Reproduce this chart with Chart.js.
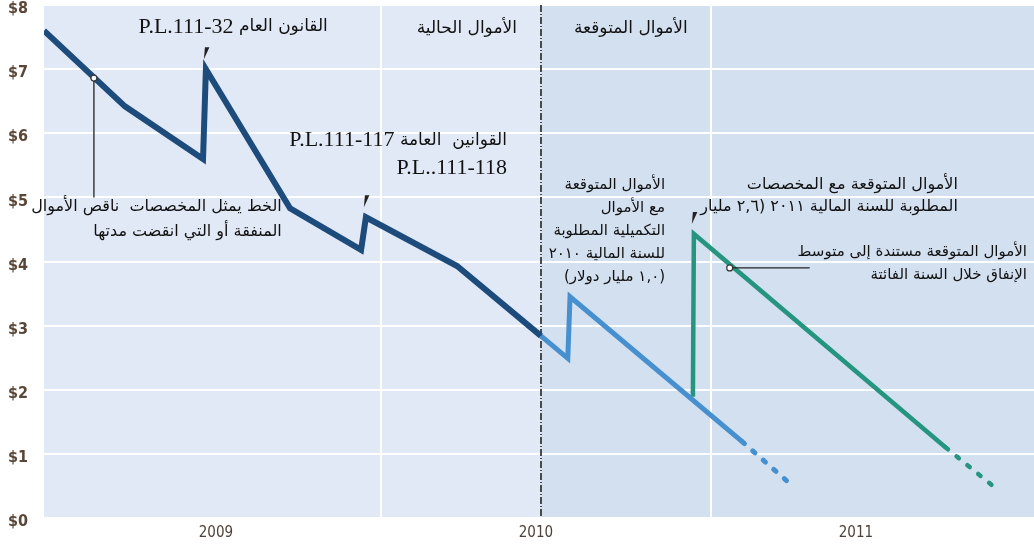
<!DOCTYPE html>
<html>
<head>
<meta charset="utf-8">
<script src="https://cdn.jsdelivr.net/npm/chart.js@4"></script>
<style>
  body { margin: 0; background: #fff; }
  #wrap { width: 1034px; height: 546px; }
</style>
</head>
<body>
<div id="wrap"><canvas id="myChart" width="1034" height="546"></canvas></div>
<script>
// axis ticks
var yearTicks = [2009, 2010, 2011];
var yMin = 0, yMax = 8;
var xMin = 2008.447, xMax = 2011.541;
var splitYear = 2010;            // dashed line: enacted | projected
var gridYears = [2009.5, 2010.53];

// enacted funds (appropriations minus spent / expired)
var enactedX = [2008.447, 2008.700, 2008.944, 2008.953, 2009.216, 2009.438, 2009.453, 2009.738, 2010.0];
var enactedY = [7.6, 6.42, 5.6, 7.0, 4.83, 4.18, 4.69, 3.93, 2.84];

// projected with FY2010 supplemental ($1.0 billion)
var suppX = [2010.0, 2010.084, 2010.091, 2010.629];
var suppY = [2.84, 2.49, 3.45, 1.19];
var suppTailX = [2010.629, 2010.775];
var suppTailY = [1.19, 0.55];

// projected with FY2011 request ($2.6 billion)
var reqX = [2010.475, 2010.478, 2011.265];
var reqY = [1.89, 4.43, 1.10];
var reqTailX = [2011.265, 2011.41];
var reqTailY = [1.10, 0.51];

// small pointer marks above each jump
var markX = [2008.953, 2009.453, 2010.478];
var markY = [7.0, 4.69, 4.43];

function pts(xs, ys) { return xs.map(function (x, i) { return { x: x, y: ys[i] }; }); }

var notes = [
  { x: 2009.334, y: 7.66, lines: ["القانون العام P.L.111-32"], size: 17 },
  { x: 2009.925, y: 7.64, lines: ["الأموال الحالية"], size: 17 },
  { x: 2010.459, y: 7.64, lines: ["الأموال المتوقعة"], size: 17 },
  { x: 2009.894, y: 5.89, lines: ["القوانين  العامة P.L.111-117", "P.L..111-118"], size: 17, lh: 28 },
  { x: 2009.19, y: 4.85, lines: ["الخط يمثل المخصصات  ناقص الأموال", "المنفقة أو التي انقضت مدتها"], size: 16, lh: 25 },
  { x: 2010.388, y: 5.19, lines: ["الأموال المتوقعة", "مع الأموال", "التكميلية المطلوبة", "للسنة المالية ٢٠١٠", "(١,٠ مليار دولار)"], size: 15, lh: 23 },
  { x: 2011.303, y: 5.19, lines: ["الأموال المتوقعة مع المخصصات", "المطلوبة للسنة المالية ٢٠١١ (٢,٦ مليار"], size: 16, lh: 22 },
  { x: 2011.519, y: 4.15, lines: ["الأموال المتوقعة مستندة إلى متوسط", "الإنفاق خلال السنة الفائتة"], size: 15, lh: 23 }
];
var latinSize = 22;

var bgPlugin = {
  id: 'bg',
  beforeDraw: function (chart) {
    var a = chart.chartArea, ctx = chart.ctx, xs = chart.scales.x;
    var sx = xs.getPixelForValue(splitYear);
    ctx.save();
    ctx.fillStyle = '#e2e9f6';
    ctx.fillRect(a.left, a.top, a.right - a.left, a.bottom - a.top);
    ctx.fillStyle = '#d3e0f0';
    ctx.fillRect(sx, a.top, a.right - sx, a.bottom - a.top);
    ctx.strokeStyle = '#ffffff';
    ctx.lineWidth = 2;
    gridYears.forEach(function (g) {
      var px = Math.round(xs.getPixelForValue(g));
      ctx.beginPath(); ctx.moveTo(px, a.top); ctx.lineTo(px, a.bottom); ctx.stroke();
    });
    ctx.restore();
  },
  beforeDatasetsDraw: function (chart) {
    var a = chart.chartArea, ctx = chart.ctx;
    var sx = Math.round(chart.scales.x.getPixelForValue(splitYear));
    ctx.save();
    ctx.strokeStyle = '#4a4a4a';
    ctx.lineWidth = 2;
    ctx.setLineDash([7, 2, 1, 2]);
    ctx.beginPath(); ctx.moveTo(sx, a.top); ctx.lineTo(sx, a.bottom); ctx.stroke();
    ctx.restore();
  }
};

// draw one line right-aligned at px; latin runs get the serif font, arabic runs the sans one
function drawLine(ctx, t, px, py, size) {
  var parts = t.split(/([A-Za-z0-9][A-Za-z0-9.\-]*)/).filter(function (s) { return s.length; });
  var cur = px;
  parts.forEach(function (p) {
    var latin = /^[A-Za-z0-9]/.test(p);
    ctx.font = latin ? latinSize + "px 'Liberation Serif', serif" : size + "px 'DejaVu Sans', sans-serif";
    ctx.direction = latin ? 'ltr' : 'rtl';
    ctx.textAlign = 'right';
    ctx.fillText(p, cur, py);
    cur -= ctx.measureText(p).width;
  });
}

var notePlugin = {
  id: 'notes',
  afterDatasetsDraw: function (chart) {
    var ctx = chart.ctx, xs = chart.scales.x, ys = chart.scales.y;
    ctx.save();
    // leader lines
    ctx.strokeStyle = '#222';
    ctx.lineWidth = 1.3;
    var p1x = xs.getPixelForValue(2008.603), p1y = ys.getPixelForValue(6.86);
    ctx.beginPath(); ctx.moveTo(p1x, p1y); ctx.lineTo(p1x, ys.getPixelForValue(5.0)); ctx.stroke();
    var p2x = xs.getPixelForValue(2010.59), p2y = ys.getPixelForValue(3.9);
    ctx.beginPath(); ctx.moveTo(p2x, p2y); ctx.lineTo(xs.getPixelForValue(2010.84), p2y); ctx.stroke();
    [[p1x, p1y], [p2x, p2y]].forEach(function (p) {
      ctx.beginPath(); ctx.arc(p[0], p[1], 3, 0, Math.PI * 2);
      ctx.fillStyle = '#fff'; ctx.fill(); ctx.strokeStyle = '#333'; ctx.lineWidth = 1.2; ctx.stroke();
    });
    // pointer marks
    ctx.fillStyle = '#222';
    markX.forEach(function (mx, i) {
      var px = xs.getPixelForValue(mx), py = ys.getPixelForValue(markY[i]);
      ctx.beginPath();
      ctx.moveTo(px - 1, py - 22);
      ctx.lineTo(px + 3.5, py - 22);
      ctx.lineTo(px - 2, py - 10);
      ctx.closePath(); ctx.fill();
    });
    // text
    ctx.fillStyle = '#111';
    ctx.textBaseline = 'middle';
    notes.forEach(function (n) {
      var px = xs.getPixelForValue(n.x), py = ys.getPixelForValue(n.y);
      n.lines.forEach(function (t, i) {
        drawLine(ctx, t, px, py + i * (n.lh || 22), n.size);
      });
    });
    ctx.restore();
  }
};

var tickFont = { family: "'Liberation Sans Narrow', 'DejaVu Sans Condensed', sans-serif", size: 16, weight: 'bold' };

new Chart("myChart", {
  type: "line",
  data: {
    datasets: [
      { data: pts(enactedX, enactedY), borderColor: "#1d4b7b", borderWidth: 6 },
      { data: pts(suppX, suppY), borderColor: "#4690d0", borderWidth: 5 },
      { data: pts(suppTailX, suppTailY), borderColor: "#4690d0", borderWidth: 5, borderDash: [3, 11], borderCapStyle: 'round' },
      { data: pts(reqX, reqY), borderColor: "#25957f", borderWidth: 4.5 },
      { data: pts(reqTailX, reqTailY), borderColor: "#25957f", borderWidth: 4.5, borderDash: [3, 11], borderCapStyle: 'round' }
    ]
  },
  options: {
    responsive: false,
    animation: false,
    layout: { padding: { top: 5, right: 0, left: 0, bottom: 0 } },
    elements: { point: { radius: 0 }, line: { tension: 0, fill: false, borderJoinStyle: 'miter' } },
    plugins: { legend: { display: false }, tooltip: { enabled: false } },
    scales: {
      x: {
        type: 'linear', min: xMin, max: xMax,
        afterBuildTicks: function (s) { s.ticks = yearTicks.map(function (v) { return { value: v }; }); },
        afterFit: function (s) { s.height = 28; s.paddingLeft = 0; s.paddingRight = 0; },
        grid: { display: false, drawTicks: false },
        border: { display: false },
        ticks: { color: '#4d4038', font: { family: tickFont.family, size: 15 }, padding: 6, labelOffset: -5, maxRotation: 0,
                 callback: function (v) { return String(v); } }
      },
      y: {
        min: yMin, max: yMax,
        afterFit: function (s) { s.width = 44; s.paddingTop = 0; s.paddingBottom = 0; },
        grid: { color: '#ffffff', lineWidth: 2, drawTicks: false },
        border: { display: false },
        ticks: { stepSize: 1, color: '#5a4636', font: tickFont, padding: 16, labelOffset: 4,
                 callback: function (v) { return '$' + v; } }
      }
    }
  },
  plugins: [bgPlugin, notePlugin]
});
</script>
</body>
</html>
